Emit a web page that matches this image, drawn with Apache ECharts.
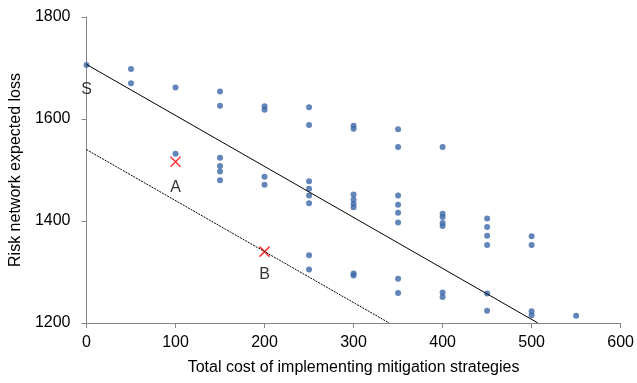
<!DOCTYPE html>
<html>
<head>
<meta charset="utf-8">
<script src="https://cdn.jsdelivr.net/npm/echarts@6/dist/echarts.min.js"></script>
<style>html,body{margin:0;padding:0;background:#fff}#c{width:637px;height:383px}</style>
</head>
<body>
<div id="c"></div>
<script>
// Strategy points: [cost, expected loss]
const costs = [0, 50, 50, 100, 100, 150, 150, 150, 150, 150, 150,
  200, 200, 200, 200, 250, 250, 250, 250, 250, 250, 250, 250,
  300, 300, 300, 300, 300, 300, 300, 300,
  350, 350, 350, 350, 350, 350, 350, 350,
  400, 400, 400, 400, 400, 400, 400,
  450, 450, 450, 450, 450, 450,
  500, 500, 500, 500, 550];
const losses = [1706, 1698, 1670, 1662, 1532, 1654, 1626, 1524, 1508, 1497, 1480,
  1625, 1618, 1487, 1471, 1623, 1588, 1478, 1463, 1450, 1435, 1333, 1305,
  1587, 1581, 1452, 1442, 1434, 1427, 1297, 1293,
  1580, 1545, 1450, 1432, 1416, 1397, 1287, 1259,
  1545, 1414, 1408, 1396, 1390, 1260, 1251,
  1405, 1388, 1371, 1353, 1258, 1224,
  1370, 1353, 1223, 1215, 1214];
// Highlighted solutions A and B
const markedCosts = [100, 200];
const markedLosses = [1516, 1340];
// Frontier lines
const solidLineX = [0, 507];
const solidLineY = [1707, 1200];
const dottedLineX = [0, 340];
const dottedLineY = [1540, 1200];
// Text labels
const labelNames = ['S', 'A', 'B'];
const labelX = [0, 100, 200];
const labelY = [1657, 1465, 1295];
// Axis ranges
const xTicks = [0, 100, 200, 300, 400, 500, 600];
const yTicks = [1200, 1400, 1600, 1800];

const zip = (a, b) => a.map((v, i) => [v, b[i]]);
const FONT = 'Liberation Sans, Arial, sans-serif';

const chart = echarts.init(document.getElementById('c'), null, {renderer: 'canvas'});
chart.setOption({
  animation: false,
  grid: {left: 85, right: 16, top: 17, bottom: 60},
  xAxis: {
    type: 'value', min: xTicks[0], max: xTicks[xTicks.length - 1], interval: 100,
    name: 'Total cost of implementing mitigation strategies',
    nameLocation: 'middle', nameGap: 37,
    nameTextStyle: {fontFamily: FONT, fontSize: 16, color: '#000'},
    axisLine: {lineStyle: {color: '#868686', width: 1}},
    axisTick: {show: true, length: 5, lineStyle: {color: '#868686'}},
    axisLabel: {fontFamily: FONT, fontSize: 16, color: '#000', margin: 12,
      formatter: v => String(v)},
    splitLine: {show: false}
  },
  yAxis: {
    type: 'value', min: yTicks[0], max: yTicks[yTicks.length - 1], interval: 200,
    name: 'Risk network expected loss',
    nameLocation: 'middle', nameGap: 51,
    nameTextStyle: {fontFamily: FONT, fontSize: 16, color: '#000'},
    axisLine: {show: true, lineStyle: {color: '#868686', width: 1}},
    axisTick: {show: true, length: 5, lineStyle: {color: '#868686'}},
    axisLabel: {fontFamily: FONT, fontSize: 16, color: '#000', margin: 16,
      formatter: v => String(v)},
    splitLine: {show: false}
  },
  series: [
    {
      type: 'line', data: zip(solidLineX, solidLineY), symbol: 'none',
      lineStyle: {color: '#000', width: 1}, silent: true
    },
    {
      type: 'line', data: zip(dottedLineX, dottedLineY), symbol: 'none',
      lineStyle: {color: '#000', width: 1, type: [2, 1]}, silent: true
    },
    {
      type: 'scatter', data: zip(costs, losses), symbol: 'circle', symbolSize: 6,
      itemStyle: {color: '#3b68a8'}
    },
    {
      type: 'scatter', data: zip(markedCosts, markedLosses),
      symbol: 'path://M0,0L10,10M10,0L0,10', symbolSize: 10,
      itemStyle: {color: 'none', borderColor: '#ff0000', borderWidth: 1.5}
    },
    {
      type: 'scatter', data: labelNames.map((n, i) => ({name: n, value: [labelX[i], labelY[i]]})),
      symbolSize: 0,
      label: {show: true, position: 'inside', formatter: p => p.name,
        fontFamily: FONT, fontSize: 16, color: '#000'}
    }
  ]
});
</script>
</body>
</html>
